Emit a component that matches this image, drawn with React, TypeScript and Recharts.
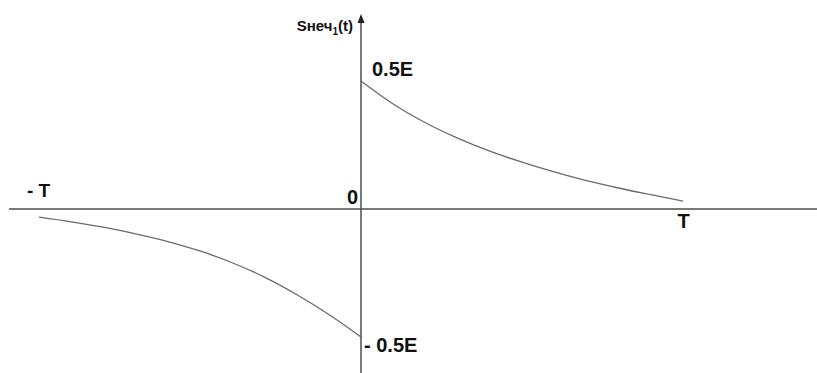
import React from "react";
import { ComposedChart, Line, XAxis, YAxis, ReferenceLine, ReferenceDot } from "recharts";

// Time in units of T, signal in units of E
const rightT = [0, 0.1, 0.2, 0.3, 0.4, 0.5, 0.6, 0.7, 0.8, 0.9, 1.0];
const rightV = [0.5, 0.41, 0.337, 0.277, 0.226, 0.183, 0.145, 0.111, 0.082, 0.056, 0.031];

const leftT = [-1.0, -0.9, -0.8, -0.7, -0.6, -0.5, -0.4, -0.3, -0.2, -0.1, 0];
const leftV = [-0.032, -0.05, -0.071, -0.097, -0.127, -0.164, -0.21, -0.266, -0.334, -0.412, -0.5];

const rightData = rightT.map((t, i) => ({ t, v: rightV[i] }));
const leftData = leftT.map((t, i) => ({ t, v: leftV[i] }));

const xDomain = [-1.0932, 1.4161];
const yDomain = [-0.6406, 0.7617];

const AXIS = "#4d4d4d";
const CURVE = "#6a6a6a";
const INK = "#111";
const FONT = "'Liberation Sans', Arial, sans-serif";

type LabelSpec = { text: React.ReactNode; dx: number; dy: number; anchor: "start" | "middle" | "end"; size: number };

const makeLabel = (spec: LabelSpec) => (props: any) => {
  const vb = props.viewBox || {};
  const cx = (vb.x ?? 0) + (vb.width ?? 0) / 2;
  const cy = (vb.y ?? 0) + (vb.height ?? 0) / 2;
  return (
    <text
      x={cx + spec.dx}
      y={cy + spec.dy}
      textAnchor={spec.anchor}
      fontFamily={FONT}
      fontWeight="bold"
      fontSize={spec.size}
      fill={INK}
    >
      {spec.text}
    </text>
  );
};

// Vertical axis with an arrowhead at its upper end
const ArrowAxis = (props: any) => {
  const { x1, y1, x2, y2 } = props;
  const top = Math.min(y1, y2);
  const bottom = Math.max(y1, y2);
  return (
    <g>
      <line x1={x1} y1={top + 2} x2={x2} y2={bottom} stroke={AXIS} strokeWidth={1.5} />
      <path d={`M ${x1} ${top} L ${x1 - 3.5} ${top + 9} L ${x1 + 3.5} ${top + 9} Z`} fill="#222" />
    </g>
  );
};

export default function App() {
  return (
    <div style={{ position: "absolute", left: 0, top: 0, background: "#fff" }}>
      <ComposedChart width={817} height={373} margin={{ top: 14, right: 0, bottom: 0, left: 9 }}>
        <XAxis type="number" dataKey="t" domain={xDomain} hide allowDataOverflow />
        <YAxis type="number" domain={yDomain} hide allowDataOverflow />
        <ReferenceLine y={0} stroke={AXIS} strokeWidth={1.6} />
        <ReferenceLine x={0} shape={ArrowAxis} />
        <Line data={rightData} dataKey="v" type="monotone" stroke={CURVE} strokeWidth={1.3} dot={false} isAnimationActive={false} />
        <Line data={leftData} dataKey="v" type="monotone" stroke={CURVE} strokeWidth={1.3} dot={false} isAnimationActive={false} />
        <ReferenceDot x={0} y={0.5} r={0} fill="none" stroke="none"
          label={makeLabel({ text: "0.5E", dx: 11, dy: -5, anchor: "start", size: 20 })} />
        <ReferenceDot x={0} y={-0.5} r={0} fill="none" stroke="none"
          label={makeLabel({ text: "- 0.5E", dx: 3, dy: 15, anchor: "start", size: 20 })} />
        <ReferenceDot x={-1} y={0} r={0} fill="none" stroke="none"
          label={makeLabel({ text: "- T", dx: -12, dy: -12, anchor: "start", size: 19 })} />
        <ReferenceDot x={1} y={0} r={0} fill="none" stroke="none"
          label={makeLabel({ text: "T", dx: 0.5, dy: 19, anchor: "middle", size: 20 })} />
        <ReferenceDot x={0} y={0} r={0} fill="none" stroke="none"
          label={makeLabel({ text: "0", dx: -3, dy: -5, anchor: "end", size: 20 })} />
        <ReferenceDot x={0} y={0.7617} r={0} fill="none" stroke="none"
          label={makeLabel({
            text: (
              <>
                <tspan>Sнеч</tspan>
                <tspan fontSize={10} dy={4}>1</tspan>
                <tspan dy={-4}>(t)</tspan>
              </>
            ),
            dx: -8,
            dy: 17,
            anchor: "end",
            size: 15,
          })} />
      </ComposedChart>
    </div>
  );
}
